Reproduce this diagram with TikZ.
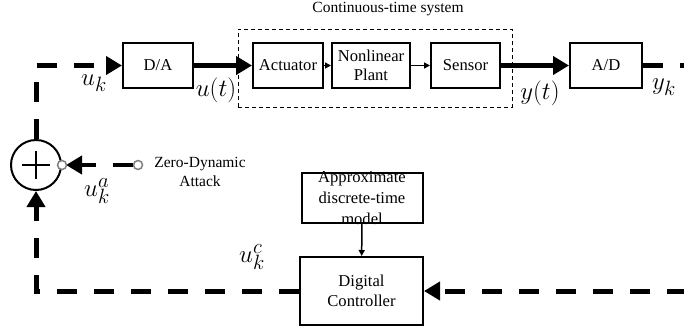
\documentclass[tikz,border=0pt]{standalone}
\usepackage{fontspec}
\setmainfont{Liberation Serif}
\usetikzlibrary{arrows.meta}

\begin{document}
\begin{tikzpicture}[
    x=1pt, y=-1pt,
    >={Triangle[length=16pt, width=18pt]},
    every node/.style={font=\fontsize{15.5}{19}\selectfont, align=center},
    block/.style={draw, line width=2pt, inner sep=0pt, minimum height=45pt,
                  font=\fontsize{16.6}{19.5}\selectfont},
    wire/.style={line width=5pt},
    bus/.style={line width=5pt, dash pattern=on 20pt off 17pt},
    link/.style={line width=1.5pt, >={Triangle[length=6pt, width=6pt]}},
    port/.style={circle, draw=gray, fill=white, line width=1.5pt, inner sep=0pt, minimum size=9pt},
    sig/.style={font=\fontsize{24.88}{25}\selectfont},
]
  \clip (0,0) rectangle (684,335);

  % continuous-time part
  \node [draw, dash pattern=on 4pt off 3pt, line width=1pt, inner sep=0pt,
         minimum width=274pt, minimum height=78pt] (cts) at (375,68) {};
  \node []  (title) at (388,9)  {Continuous-time system};

  \node [block, minimum width=70pt] (da)    at (158,  65.5)  {D/A};
  \node [block, minimum width=70pt] (act)   at (288,  65.5)  {Actuator}  edge [wire, <-] (da);
  \node [block, minimum width=78pt] (plant) at (371,  65.5)  {Nonlinear\\Plant}  edge [link, <-] (act);
  \node [block, minimum width=69pt] (sens)  at (465.5,65.5)  {Sensor}  edge [link, <-] (plant);
  \node [block, minimum width=72pt] (ad)    at (606,  65.5)  {A/D}  edge [wire, <-] (sens);

  % discrete-time part
  \node [block, minimum width=121pt, minimum height=0pt, inner ysep=-2pt,
         font=\fontsize{16.6}{21}\selectfont] (appr) at (362,198) {Approximate\\discrete-time\\model};
  \node [block, minimum width=123pt, minimum height=68pt] (ctrl) at (361.5,291) {Digital\\Controller}
                                                              edge [link, <-] (appr);

  % summing junction
  \node [circle, draw, line width=2pt, inner sep=0pt, minimum size=50pt] (sum) at (36,165) {};
  \draw [line width=2pt] (sum.center) +(-14,0) -- +(14,0) +(0,-14) -- +(0,14);

  \coordinate (ne) at (700,65.5);
  \draw [bus, ->] (sum.north) |- (da.west);
  \draw [bus, ->] (ad.east) -- (ne) |- (ctrl.east);
  \draw [bus, ->] (ctrl.west) -| (sum.south);

  % attack input
  \node [port] (src) at (138,165) {};
  \draw [bus, line width=4.5pt, ->, shorten >=4pt] (src) -- (sum.east);
  \node [port] (pin) at (sum.east) {};
  \node []     (atk) at (200,172) {Zero-Dynamic\\Attack};

  % signals
  \node [sig] (uk)  at (94,83)   {$u_k$};
  \node [sig] (ut)  at (216,90)  {$u(t)$};
  \node [sig] (yt)  at (540,93)  {$y(t)$};
  \node [sig] (yk)  at (664,87)  {$y_k$};
  \node [sig] (uka) at (97,191)  {$u_k^a$};
  \node [sig] (ukc) at (252,257) {$u_k^c$};
\end{tikzpicture}
\end{document}
